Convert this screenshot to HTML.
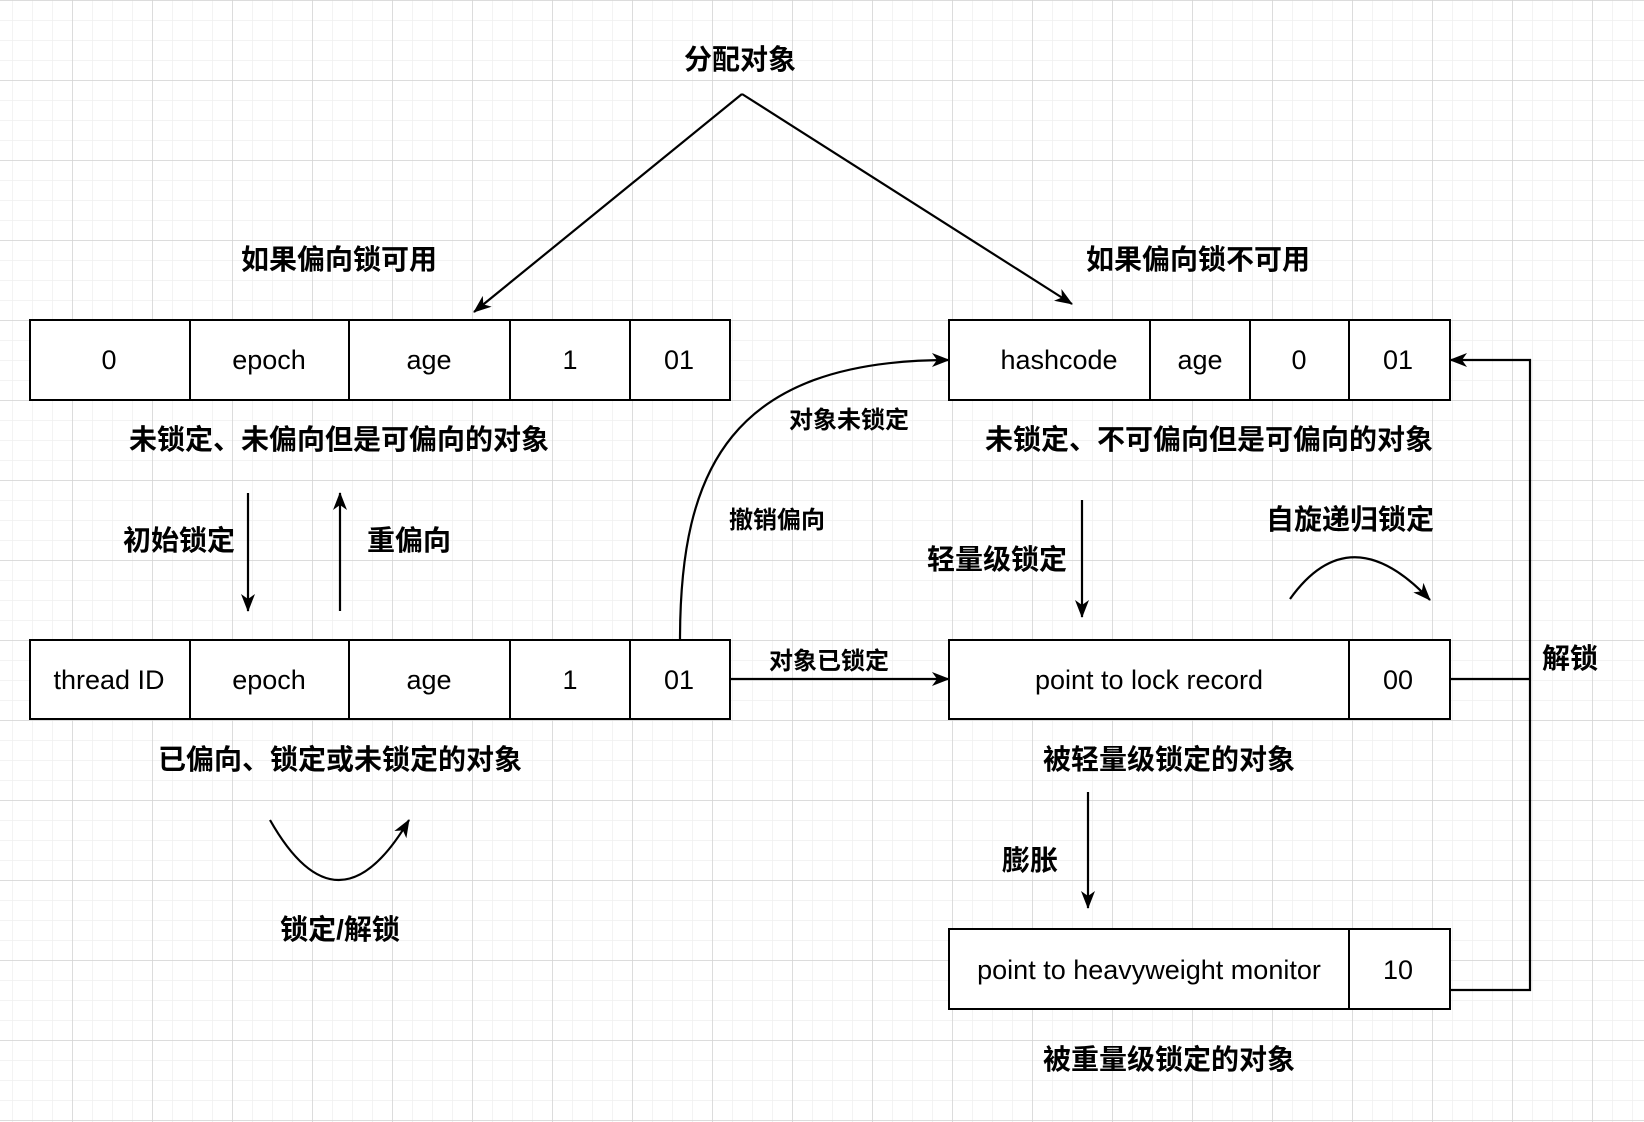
<!DOCTYPE html>
<html><head><meta charset="utf-8"><style>
html,body{margin:0;padding:0;background:#fff}
svg{display:block}
.b{font-family:"Liberation Sans","Noto Sans CJK SC",sans-serif;font-weight:bold;fill:#000}
.t{font-family:"Liberation Sans","Noto Sans CJK SC",sans-serif;font-size:27px;fill:#000}
</style></head><body>
<svg width="1644" height="1122" viewBox="0 0 1644 1122" xmlns="http://www.w3.org/2000/svg">
<defs>
<pattern id="minor" width="20" height="20" patternUnits="userSpaceOnUse" x="-8" y="0">
<path d="M0 0H20M0 0V20" stroke="#efefef" stroke-width="1.5" fill="none"/>
</pattern>
<pattern id="major" width="80" height="80" patternUnits="userSpaceOnUse" x="-8" y="0">
<path d="M0 0H80M0 0V80" stroke="#d3d3d3" stroke-width="1.5" fill="none"/>
</pattern>
<marker id="a" markerWidth="18" markerHeight="14" refX="17" refY="7" orient="auto" markerUnits="userSpaceOnUse">
<path d="M0 0L18 7L0 14L5 7Z" fill="#000"/>
</marker>
</defs>
<rect width="1644" height="1122" fill="url(#minor)"/>
<rect width="1644" height="1122" fill="url(#major)"/>
<g fill="#fff" stroke="#000" stroke-width="2">
<rect x="30" y="320" width="700" height="80"/>
<rect x="30" y="640" width="700" height="79"/>
<rect x="949" y="320" width="501" height="80"/>
<rect x="949" y="640" width="501" height="79"/>
<rect x="949" y="929" width="501" height="80"/>
</g>
<g stroke="#000" stroke-width="2" fill="none">
<path d="M190 320V400M349 320V400M510 320V400M630 320V400"/>
<path d="M190 640V719M349 640V719M510 640V719M630 640V719"/>
<path d="M1150 320V400M1250 320V400M1349 320V400"/>
<path d="M1349 640V719M1349 929V1009"/>
</g>
<g class="t" text-anchor="middle">
<text x="109" y="369">0</text><text x="269" y="369">epoch</text><text x="429" y="369">age</text><text x="570" y="369">1</text><text x="679" y="369">01</text>
<text x="109" y="689">thread ID</text><text x="269" y="689">epoch</text><text x="429" y="689">age</text><text x="570" y="689">1</text><text x="679" y="689">01</text>
<text x="1059" y="369">hashcode</text><text x="1200" y="369">age</text><text x="1299" y="369">0</text><text x="1398" y="369">01</text>
<text x="1149" y="689">point to lock record</text><text x="1398" y="689">00</text>
<text x="1149" y="979">point to heavyweight monitor</text><text x="1398" y="979">10</text>
</g>
<g stroke="#000" stroke-width="2.2" fill="none" marker-end="url(#a)">
<path d="M742 94L474 312"/>
<path d="M742 94L1072 304"/>
<path d="M248 493V611"/>
<path d="M340 611V493"/>
<path d="M680 640C680 470 730 360 949 360"/>
<path d="M730 679H949"/>
<path d="M270 820Q338 940 409 820"/>
<path d="M1082 500V617"/>
<path d="M1290 599Q1350 515 1430 600"/>
<path d="M1088 792V908"/>
<path d="M1450 679H1530V990H1450M1530 679V360H1450"/>
</g>
<g class="b" text-anchor="middle" font-size="28">
<text x="740" y="69">分配对象</text>
<text x="339" y="269">如果偏向锁可用</text>
<text x="1198" y="269">如果偏向锁不可用</text>
<text x="339" y="449">未锁定、未偏向但是可偏向的对象</text>
<text x="1209" y="449">未锁定、不可偏向但是可偏向的对象</text>
<text x="179" y="550">初始锁定</text>
<text x="409" y="550">重偏向</text>
<text x="997" y="569">轻量级锁定</text>
<text x="1350" y="529">自旋递归锁定</text>
<text x="340" y="769">已偏向、锁定或未锁定的对象</text>
<text x="1169" y="769">被轻量级锁定的对象</text>
<text x="1030" y="870">膨胀</text>
<text x="340" y="939">锁定/解锁</text>
<text x="1570" y="668">解锁</text>
<text x="1169" y="1069">被重量级锁定的对象</text>
</g>
<g class="b" text-anchor="middle" font-size="24">
<text x="849" y="428">对象未锁定</text>
<text x="777" y="528">撤销偏向</text>
<text x="829" y="669">对象已锁定</text>
</g>
</svg>
</body></html>
